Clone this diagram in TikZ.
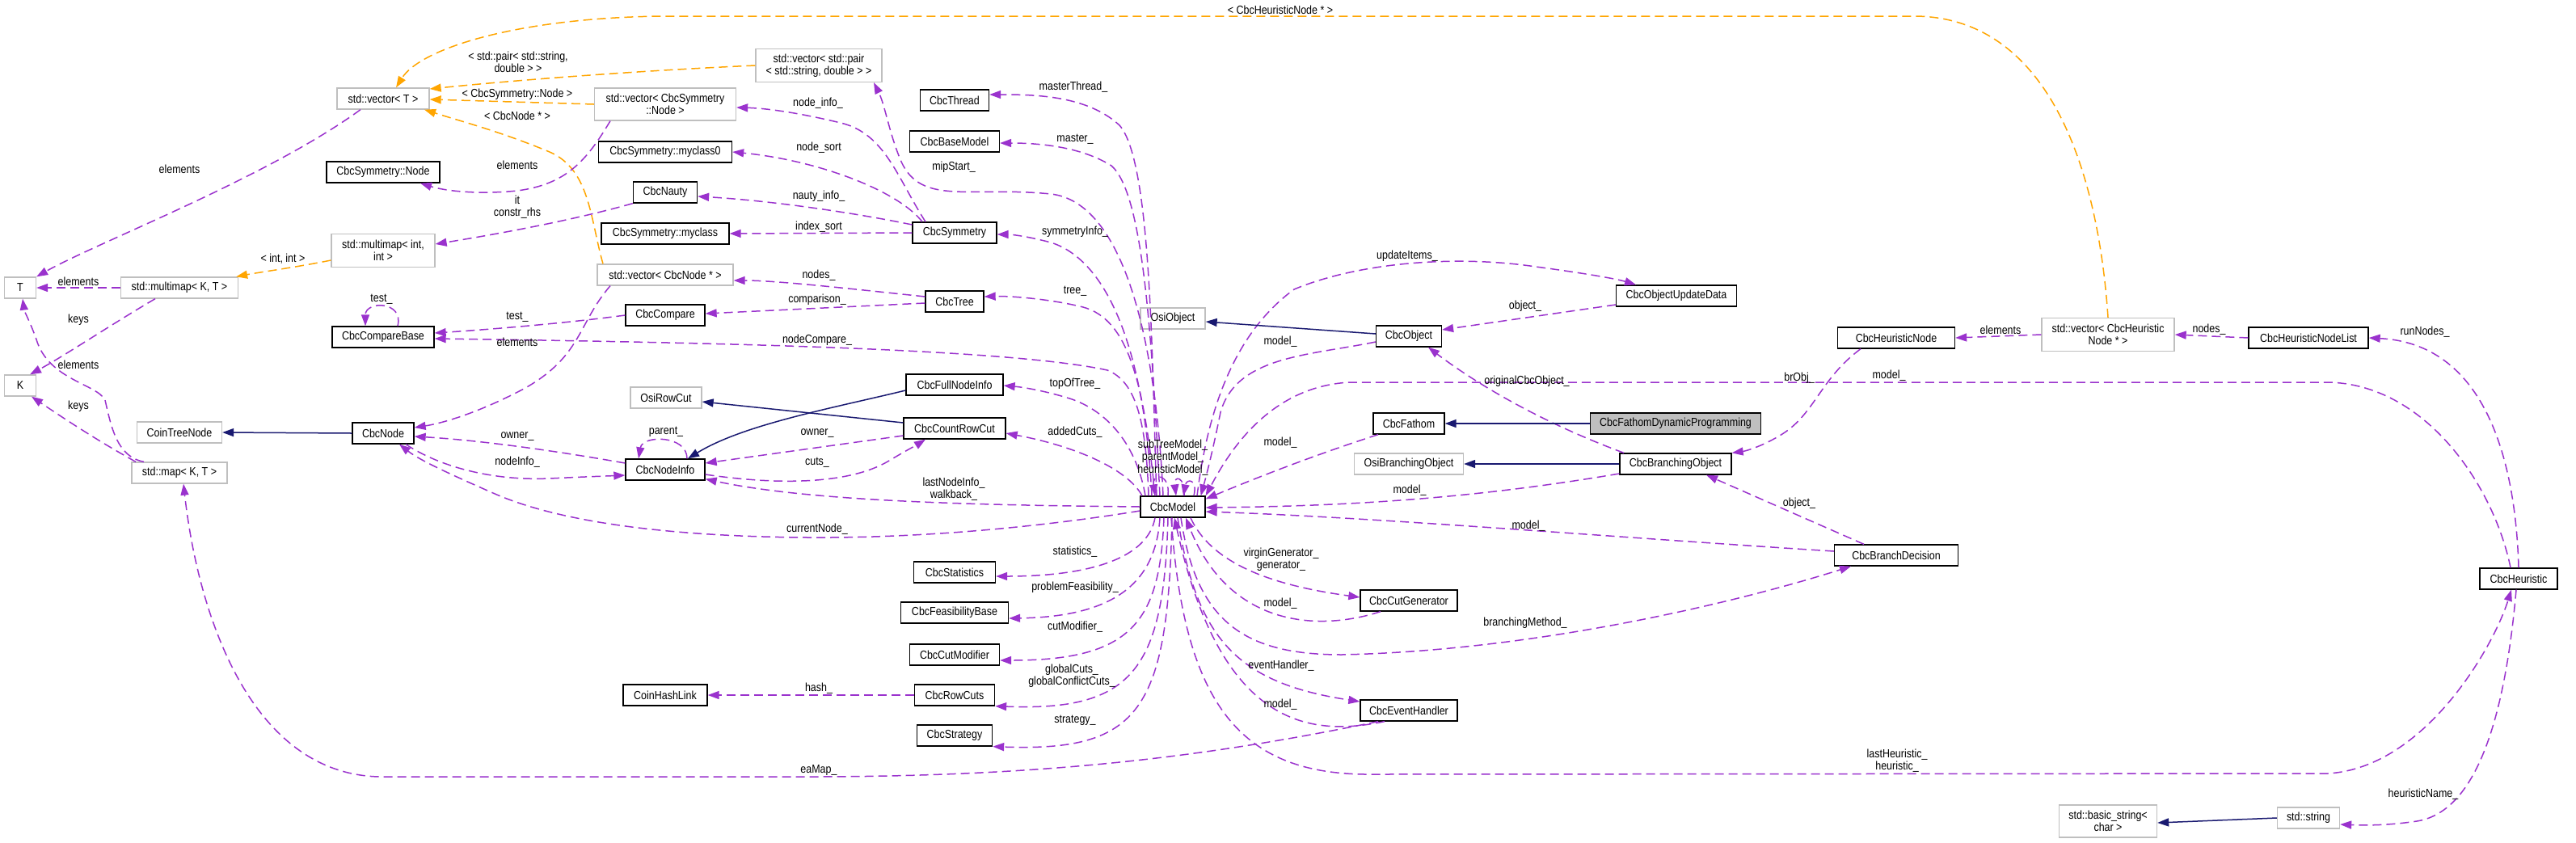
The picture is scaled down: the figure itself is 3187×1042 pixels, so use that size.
\documentclass[tikz,border=0pt]{standalone}
\usepackage{fontspec}
\setmainfont{Liberation Sans}[FakeStretch=0.86]
\usetikzlibrary{arrows.meta}
\definecolor{purp}{HTML}{9A32CD}
\definecolor{orng}{HTML}{FFA500}
\definecolor{navyb}{HTML}{191970}
\definecolor{grey75}{HTML}{BFBFBF}
\newcommand\dfont{\fontsize{14.5}{15.5}\selectfont}
\begin{document}
\begin{tikzpicture}[x=1pt,y=-1pt,font=\dfont,
  box/.style={draw=black,line width=1.3pt,fill=white,inner sep=0pt,align=center,minimum height=26pt},
  ext/.style={box,draw=grey75},
  twol/.style={minimum height=41pt},
  mem/.style={draw=purp,line width=1.5pt,dash pattern=on 11pt off 6pt,-{Triangle[length=14pt,width=10pt]}},
  tmpl/.style={mem,draw=orng},
  inh/.style={draw=navyb,line width=1.5pt,-{Triangle[length=14pt,width=10pt]}},
  lbl/.style={inner sep=0pt,align=center}]
\useasboundingbox (0,0) rectangle (3187,1042);
% ---------- nodes ----------
\node[ext,minimum width=114pt] (vecT) at (474,122) {std::vector< T >};
\node[box,minimum width=140pt] (symnode) at (474,213) {CbcSymmetry::Node};
\node[ext,twol,minimum width=128pt] (mmii) at (474,310) {std::multimap< int,\\ int >};
\node[ext,minimum width=39pt] (T) at (25,356) {T};
\node[ext,minimum width=145pt] (mmKT) at (222,356) {std::multimap< K, T >};
\node[ext,twol,minimum width=175pt,minimum height=40pt] (vecSymNode) at (823,129) {std::vector< CbcSymmetry\\ ::Node >};
\node[ext,twol,minimum width=156pt] (vecPair) at (1013,81) {std::vector< std::pair\\ < std::string, double > >};
\node[box,minimum width=85pt] (CbcThread) at (1181,124) {CbcThread};
\node[box,minimum width=111pt] (CbcBaseModel) at (1181,175) {CbcBaseModel};
\node[box,minimum width=165pt] (myclass0) at (823,188) {CbcSymmetry::myclass0};
\node[box,minimum width=79pt] (CbcNauty) at (823,238) {CbcNauty};
\node[box,minimum width=158pt] (myclass) at (823,289) {CbcSymmetry::myclass};
\node[box,minimum width=104pt] (CbcSymmetry) at (1181,288) {CbcSymmetry};
\node[ext,minimum width=168pt] (vecNodePtr) at (823,340) {std::vector< CbcNode * >};
\node[box,minimum width=126pt] (CbcCompareBase) at (474,417) {CbcCompareBase};
\node[box,minimum width=98pt] (CbcCompare) at (823,390) {CbcCompare};
\node[box,minimum width=72pt] (CbcTree) at (1181,373) {CbcTree};
\node[ext,minimum width=80pt] (OsiObject) at (1451,394) {OsiObject};
\node[ext,minimum width=39pt] (K) at (25,477) {K};
\node[ext,minimum width=105pt] (CoinTreeNode) at (222,535) {CoinTreeNode};
\node[box,minimum width=76pt] (CbcNode) at (474,536) {CbcNode};
\node[ext,minimum width=118pt] (mapKT) at (222,585) {std::map< K, T >};
\node[ext,minimum width=88pt] (OsiRowCut) at (824,492) {OsiRowCut};
\node[box,minimum width=120pt] (CbcFullNodeInfo) at (1181,476) {CbcFullNodeInfo};
\node[box,minimum width=126pt] (CbcCountRowCut) at (1181,530) {CbcCountRowCut};
\node[box,minimum width=98pt] (CbcNodeInfo) at (823,581) {CbcNodeInfo};
\node[box,minimum width=80pt] (CbcModel) at (1451,627) {CbcModel};
\node[box,minimum width=101pt] (CbcStatistics) at (1181,708) {CbcStatistics};
\node[box,minimum width=133pt] (CbcFeasibilityBase) at (1181,758) {CbcFeasibilityBase};
\node[box,minimum width=111pt] (CbcCutModifier) at (1181,810) {CbcCutModifier};
\node[box,minimum width=104pt] (CoinHashLink) at (823,860) {CoinHashLink};
\node[box,minimum width=99pt] (CbcRowCuts) at (1181,860) {CbcRowCuts};
\node[box,minimum width=93pt] (CbcStrategy) at (1181,910) {CbcStrategy};
\node[box,minimum width=149pt] (CbcObjectUpdateData) at (2074,366) {CbcObjectUpdateData};
\node[box,minimum width=81pt] (CbcObject) at (1743,416) {CbcObject};
\node[box,minimum width=145pt] (CbcHeuristicNode) at (2346,418) {CbcHeuristicNode};
\node[ext,twol,minimum width=164pt] (vecHeurNode) at (2608,414) {std::vector< CbcHeuristic\\ Node * >};
\node[box,minimum width=148pt] (CbcHeuristicNodeList) at (2856,418) {CbcHeuristicNodeList};
\node[box,minimum width=88pt] (CbcFathom) at (1743,524) {CbcFathom};
\node[box,fill=grey75,minimum width=211pt] (CbcFDP) at (2073,524) {CbcFathomDynamicProgramming};
\node[ext,minimum width=135pt] (OsiBranchingObject) at (1743,574) {OsiBranchingObject};
\node[box,minimum width=138pt] (CbcBranchingObject) at (2073,574) {CbcBranchingObject};
\node[box,minimum width=153pt] (CbcBranchDecision) at (2346,687) {CbcBranchDecision};
\node[box,minimum width=120pt] (CbcCutGenerator) at (1743,743) {CbcCutGenerator};
\node[box,minimum width=120pt] (CbcEventHandler) at (1743,879) {CbcEventHandler};
\node[box,minimum width=96pt] (CbcHeuristic) at (3116,716) {CbcHeuristic};
\node[ext,twol,minimum width=121pt,minimum height=40pt] (basicString) at (2608,1016) {std::basic\_string<\\ char >};
\node[ext,minimum width=77pt] (stdString) at (2856,1012) {std::string};
% ---------- edges ----------
\draw[mem] ([xshift=-28pt]vecT.south) .. controls (330,220) and (120,300) .. (T.north east);
\draw[mem] (mmKT.west) -- (T.east);
\draw[mem] ([xshift=-30pt]mmKT.south) .. controls (140,400) and (80,440) .. ([xshift=12pt]K.north);
\draw[mem] ([xshift=-44pt]mapKT.north) .. controls (145,565) and (138,530) .. (130,495) .. controls (120,475) and (60,470) .. (45,420) .. controls (38,400) and (30,385) .. ([xshift=3pt]T.south);
\draw[mem] ([xshift=-54pt]mapKT.north) .. controls (120,545) and (75,515) .. ([xshift=14pt]K.south);
\draw[tmpl] ([yshift=-12pt]mmii.west) .. controls (370,330) and (320,337) .. ([xshift=-3pt]mmKT.north east);
\draw[tmpl] (vecPair.west) .. controls (800,87) and (650,98) .. ([yshift=12pt]vecT.east);
\draw[tmpl] (vecSymNode.west) -- ([yshift=-1pt]vecT.east);
\draw[tmpl] ([xshift=-77pt]vecNodePtr.north) .. controls (730,270) and (730,210) .. (680,188) .. controls (620,163) and (570,150) .. ([xshift=51pt]vecT.south);
\draw[tmpl] (vecHeurNode.north) .. controls (2595,200) and (2530,22) .. (2370,20) -- (820,20) .. controls (640,22) and (520,60) .. ([xshift=16pt]vecT.north);
\draw[mem] ([xshift=-68pt]vecSymNode.south) .. controls (725,200) and (700,228) .. (640,236) .. controls (590,241) and (550,236) .. ([xshift=46pt]symnode.south);
\draw[mem] (CbcNauty.south west) .. controls (700,275) and (600,292) .. ([yshift=8pt]mmii.east);
\draw[mem] ([xshift=-36pt]CbcSymmetry.north) .. controls (1110,220) and (1095,165) .. (1040,152) .. controls (990,140) and (950,134) .. ([yshift=-4pt]vecSymNode.east);
\draw[mem] ([xshift=-12pt]CbcModel.north) .. controls (1430,420) and (1390,250) .. (1300,240) .. controls (1200,230) and (1140,255) .. (1115,200) .. controls (1100,165) and (1095,130) .. ([xshift=68pt]vecPair.south);
\draw[mem] ([xshift=-40pt]CbcSymmetry.north) .. controls (1110,235) and (1010,198) .. (myclass0.east);
\draw[mem] ([yshift=10pt]CbcSymmetry.west) .. controls (1050,262) and (950,248) .. ([yshift=-5pt]CbcNauty.east);
\draw[mem] (CbcSymmetry.west) -- (myclass.east);
\draw[mem] ([xshift=-20pt]CbcModel.north) .. controls (1425,450) and (1425,200) .. (1385,155) .. controls (1345,118) and (1280,117) .. ([yshift=7pt]CbcThread.east);
\draw[mem] ([xshift=-16pt]CbcModel.north) .. controls (1425,420) and (1415,240) .. (1375,205) .. controls (1335,180) and (1280,177) .. ([yshift=-2pt]CbcBaseModel.east);
\draw[mem] ([xshift=-26pt]CbcModel.north) .. controls (1415,420) and (1365,320) .. (1300,300) .. controls (1270,292) and (1250,290) .. ([yshift=-2pt]CbcSymmetry.east);
\draw[mem] ([xshift=-22pt]CbcModel.north) .. controls (1415,470) and (1395,395) .. (1340,380) .. controls (1300,370) and (1250,366) .. ([yshift=6pt]CbcTree.east);
\draw[mem] ([yshift=6pt]CbcTree.west) .. controls (1050,357) and (960,347) .. ([yshift=-7pt]vecNodePtr.east);
\draw[mem] ([yshift=-2pt]CbcTree.west) -- ([yshift=2pt]CbcCompare.east);
\draw[mem] (CbcCompare.west) .. controls (700,400) and (600,408) .. ([yshift=5pt]CbcCompareBase.east);
\draw[mem] ([xshift=18pt]CbcCompareBase.north) .. controls (500,372) and (452,372) .. ([xshift=-22pt]CbcCompareBase.north);
\draw[mem] ([xshift=-30pt]CbcModel.north) .. controls (1418,520) and (1405,472) .. (1370,458) .. controls (1250,432) and (900,424) .. ([yshift=-2pt]CbcCompareBase.east);
\draw[mem] ([xshift=-68pt]vecNodePtr.south) .. controls (715,400) and (720,440) .. (650,480) .. controls (590,512) and (545,524) .. ([yshift=7pt]CbcNode.east);
\draw[inh] (CbcNode.west) -- (CoinTreeNode.east);
\draw[mem] ([yshift=8pt]CbcNodeInfo.west) .. controls (700,560) and (600,545) .. ([yshift=-4pt]CbcNode.east);
\draw[mem] ([xshift=28pt]CbcNode.south) .. controls (545,578) and (610,595) .. (680,592) .. controls (720,590) and (750,589) .. ([yshift=-7pt]CbcNodeInfo.west);
\draw[mem] ([yshift=-5pt]CbcModel.west) .. controls (1300,650) and (1150,666) .. (1000,665) .. controls (850,664) and (700,650) .. (610,610) .. controls (560,588) and (520,570) .. ([xshift=20pt]CbcNode.south);
\draw[mem] ([xshift=27pt]CbcNodeInfo.north) .. controls (850,538) and (795,538) .. ([xshift=-33pt]CbcNodeInfo.north);
\draw[inh] ([yshift=-7pt]CbcFullNodeInfo.west) .. controls (1030,505) and (920,525) .. ([xshift=28pt]CbcNodeInfo.north);
\draw[inh] ([yshift=7pt]CbcCountRowCut.west) -- ([yshift=-5pt]OsiRowCut.east);
\draw[mem] ([yshift=-9pt]CbcCountRowCut.west) -- ([yshift=8pt]CbcNodeInfo.east);
\draw[mem] ([yshift=-6pt]CbcNodeInfo.east) .. controls (960,600) and (1050,600) .. (1100,570) .. controls (1120,558) and (1135,550) .. ([xshift=-36pt]CbcCountRowCut.south);
\draw[mem] (CbcModel.west) .. controls (1200,625) and (1000,620) .. ([yshift=2pt]CbcNodeInfo.south east);
\draw[mem] ([xshift=-34pt]CbcModel.north) .. controls (1405,545) and (1365,505) .. (1320,492) .. controls (1290,483) and (1265,479) .. ([yshift=-1pt]CbcFullNodeInfo.east);
\draw[mem] ([xshift=-38pt]CbcModel.north) .. controls (1395,580) and (1330,552) .. ([yshift=-6pt]CbcCountRowCut.east);
\draw[mem] ([xshift=-6pt]CbcModel.north) .. controls (1448,585) and (1425,585) .. ([xshift=-22pt]CbcModel.north);
\draw[mem] ([xshift=14pt]CbcModel.north) .. controls (1466,588) and (1452,588) .. ([xshift=4pt]CbcModel.north);
\draw[mem] ([xshift=26pt]CbcModel.north) .. controls (1482,592) and (1468,592) .. ([xshift=13pt]CbcModel.north);
\draw[mem] ([xshift=-22pt]CbcModel.south) .. controls (1420,690) and (1350,713) .. ([yshift=-5pt]CbcStatistics.east);
\draw[mem] ([xshift=-16pt]CbcModel.south) .. controls (1430,720) and (1380,763) .. ([yshift=-7pt]CbcFeasibilityBase.east);
\draw[mem] ([xshift=-11pt]CbcModel.south) .. controls (1435,770) and (1400,817) .. ([yshift=-7pt]CbcCutModifier.east);
\draw[mem] ([xshift=-6pt]CbcModel.south) .. controls (1440,830) and (1400,880) .. (CbcRowCuts.south east);
\draw[mem] ([xshift=-1pt]CbcModel.south) .. controls (1445,880) and (1410,930) .. (CbcStrategy.south east);
\draw[mem] (CbcRowCuts.west) -- (CoinHashLink.east);
\draw[mem] ([xshift=-38pt]CbcEventHandler.south) .. controls (1500,935) and (1300,961) .. (1000,961) -- (470,961) .. controls (310,958) and (245,760) .. ([xshift=5pt]mapKT.south);
\draw[mem] ([xshift=30pt]CbcModel.north) .. controls (1495,500) and (1530,410) .. (1601,358) .. controls (1680,325) and (1800,315) .. (1900,330) .. controls (1960,338) and (2000,345) .. ([xshift=-50pt]CbcObjectUpdateData.north);
\draw[mem] ([yshift=-11pt]CbcObjectUpdateData.west) -- ([yshift=8pt]CbcObject.east);
\draw[inh] ([yshift=3pt]CbcObject.west) -- ([yshift=-4pt]OsiObject.east);
\draw[mem] ([yshift=-7pt]CbcObject.west) .. controls (1620,440) and (1530,440) .. (1510,510) .. controls (1500,560) and (1492,590) .. ([xshift=-6pt]CbcModel.north east);
\draw[mem] ([xshift=-64pt]CbcBranchingObject.north) .. controls (1900,520) and (1820,470) .. ([xshift=24pt]CbcObject.south);
\draw[mem] ([xshift=-10pt]CbcHeuristic.north) .. controls (3085,600) and (3000,475) .. (2880,473) -- (1670,473) .. controls (1570,478) and (1520,560) .. (CbcModel.north east);
\draw[mem] ([xshift=-44pt]CbcHeuristicNode.south) .. controls (2250,470) and (2245,515) .. (2200,540) .. controls (2180,552) and (2160,558) .. (CbcBranchingObject.north east);
\draw[inh] (CbcFDP.west) -- (CbcFathom.east);
\draw[mem] ([xshift=-38pt]CbcFathom.south) .. controls (1620,565) and (1545,595) .. ([yshift=-4pt]CbcModel.north east);
\draw[inh] (CbcBranchingObject.west) -- (OsiBranchingObject.east);
\draw[mem] ([yshift=-12pt]CbcBranchingObject.west) .. controls (1850,612) and (1700,626) .. ([yshift=-1pt]CbcModel.east);
\draw[mem] ([xshift=-40pt]CbcBranchDecision.north) -- ([xshift=38pt]CbcBranchingObject.south);
\draw[mem] ([yshift=5pt]CbcBranchDecision.west) .. controls (2000,665) and (1700,640) .. ([yshift=-6pt]CbcModel.east);
\draw[mem] (vecHeurNode.west) -- (CbcHeuristicNode.east);
\draw[mem] (CbcHeuristicNodeList.west) -- (vecHeurNode.east);
\draw[mem] (CbcHeuristic.north) .. controls (3112,560) and (3070,425) .. (CbcHeuristicNodeList.east);
\draw[mem] ([xshift=22pt]CbcModel.south) .. controls (1500,700) and (1580,725) .. ([yshift=4pt]CbcCutGenerator.west);
\draw[mem] ([xshift=-35pt]CbcCutGenerator.south) .. controls (1630,782) and (1520,775) .. ([xshift=16pt]CbcModel.south);
\draw[mem] ([xshift=10pt]CbcModel.south) .. controls (1480,770) and (1540,810) .. (1660,810) .. controls (1900,805) and (2150,745) .. ([xshift=-56pt]CbcBranchDecision.south);
\draw[mem] ([xshift=6pt]CbcModel.south) .. controls (1480,790) and (1530,845) .. ([yshift=11pt]CbcEventHandler.west);
\draw[mem] ([xshift=-30pt]CbcEventHandler.south) .. controls (1620,912) and (1510,900) .. ([xshift=2pt]CbcModel.south);
\draw[mem] ([xshift=-2pt]CbcModel.south) .. controls (1465,880) and (1540,960) .. (1700,958) -- (2880,957) .. controls (3000,950) and (3085,800) .. ([xshift=-9pt]CbcHeuristic.south);
\draw[mem] ([xshift=-3pt]CbcHeuristic.south) .. controls (3098,900) and (3060,1005) .. (2990,1016) .. controls (2950,1022) and (2920,1021) .. ([yshift=-8pt]stdString.east);
\draw[inh] (stdString.west) -- ([yshift=-2pt]basicString.east);
% ---------- labels ----------
\node[lbl] (l1) at (222,209) {elements};
\node[lbl] (l2) at (97,348) {elements};
\node[lbl] (l3) at (97,396) {keys};
\node[lbl] (l4) at (97,451) {elements};
\node[lbl] (l5) at (97,503) {keys};
\node[lbl] (l6) at (350,320) {< int, int >};
\node[lbl] (l7) at (641,77) {< std::pair< std::string,\\ double > >};
\node[lbl] (l8) at (640,117) {< CbcSymmetry::Node >};
\node[lbl] (l9) at (640,143) {< CbcNode * >};
\node[lbl] (l10) at (1584,12) {< CbcHeuristicNode * >};
\node[lbl] (l11) at (640,204) {elements};
\node[lbl] (l12) at (640,256) {it\\ constr\_rhs};
\node[lbl] (l13) at (1012,128) {node\_info\_};
\node[lbl] (l14) at (1180,207) {mipStart\_};
\node[lbl] (l15) at (1013,183) {node\_sort};
\node[lbl] (l16) at (1013,243) {nauty\_info\_};
\node[lbl] (l17) at (1013,281) {index\_sort};
\node[lbl] (l18) at (1328,108) {masterThread\_};
\node[lbl] (l19) at (1330,172) {master\_};
\node[lbl] (l20) at (1330,287) {symmetryInfo\_};
\node[lbl] (l21) at (1330,360) {tree\_};
\node[lbl] (l22) at (1013,341) {nodes\_};
\node[lbl] (l23) at (1011,371) {comparison\_};
\node[lbl] (l24) at (640,392) {test\_};
\node[lbl] (l25) at (472,370) {test\_};
\node[lbl] (l26) at (1011,421) {nodeCompare\_};
\node[lbl] (l27) at (640,423) {elements};
\node[lbl] (l29) at (640,540) {owner\_};
\node[lbl] (l30) at (640,572) {nodeInfo\_};
\node[lbl] (l31) at (1011,655) {currentNode\_};
\node[lbl] (l32) at (824,534) {parent\_};
\node[lbl] (l35) at (1011,536) {owner\_};
\node[lbl] (l36) at (1011,572) {cuts\_};
\node[lbl] (l37) at (1180,605) {lastNodeInfo\_\\ walkback\_};
\node[lbl] (l38) at (1330,475) {topOfTree\_};
\node[lbl] (l39) at (1330,535) {addedCuts\_};
\node[lbl] (l40) at (1451,566) {subTreeModel\_\\ parentModel\_\\ heuristicModel\_};
\node[lbl] (l41) at (1330,683) {statistics\_};
\node[lbl] (l42) at (1330,727) {problemFeasibility\_};
\node[lbl] (l43) at (1330,776) {cutModifier\_};
\node[lbl] (l44) at (1326,836) {globalCuts\_\\ globalConflictCuts\_};
\node[lbl] (l45) at (1330,891) {strategy\_};
\node[lbl] (l46) at (1013,852) {hash\_};
\node[lbl] (l47) at (1013,953) {eaMap\_};
\node[lbl] (l48) at (1741,317) {updateItems\_};
\node[lbl] (l49) at (1887,379) {object\_};
\node[lbl] (l51) at (1584,423) {model\_};
\node[lbl] (l52) at (1889,472) {originalCbcObject\_};
\node[lbl] (l53) at (2337,465) {model\_};
\node[lbl] (l54) at (2226,468) {brObj\_};
\node[lbl] (l56) at (1584,548) {model\_};
\node[lbl] (l58) at (1744,607) {model\_};
\node[lbl] (l59) at (2226,623) {object\_};
\node[lbl] (l60) at (1891,651) {model\_};
\node[lbl] (l61) at (2475,408) {elements};
\node[lbl] (l62) at (2733,408) {nodes\_};
\node[lbl] (l63) at (3000,411) {runNodes\_};
\node[lbl] (l64) at (1585,692) {virginGenerator\_\\ generator\_};
\node[lbl] (l65) at (1584,747) {model\_};
\node[lbl] (l66) at (1887,771) {branchingMethod\_};
\node[lbl] (l67) at (1585,824) {eventHandler\_};
\node[lbl] (l68) at (1584,872) {model\_};
\node[lbl] (l69) at (2347,941) {lastHeuristic\_\\ heuristic\_};
\node[lbl] (l70) at (2998,983) {heuristicName\_};
\end{tikzpicture}
\end{document}
